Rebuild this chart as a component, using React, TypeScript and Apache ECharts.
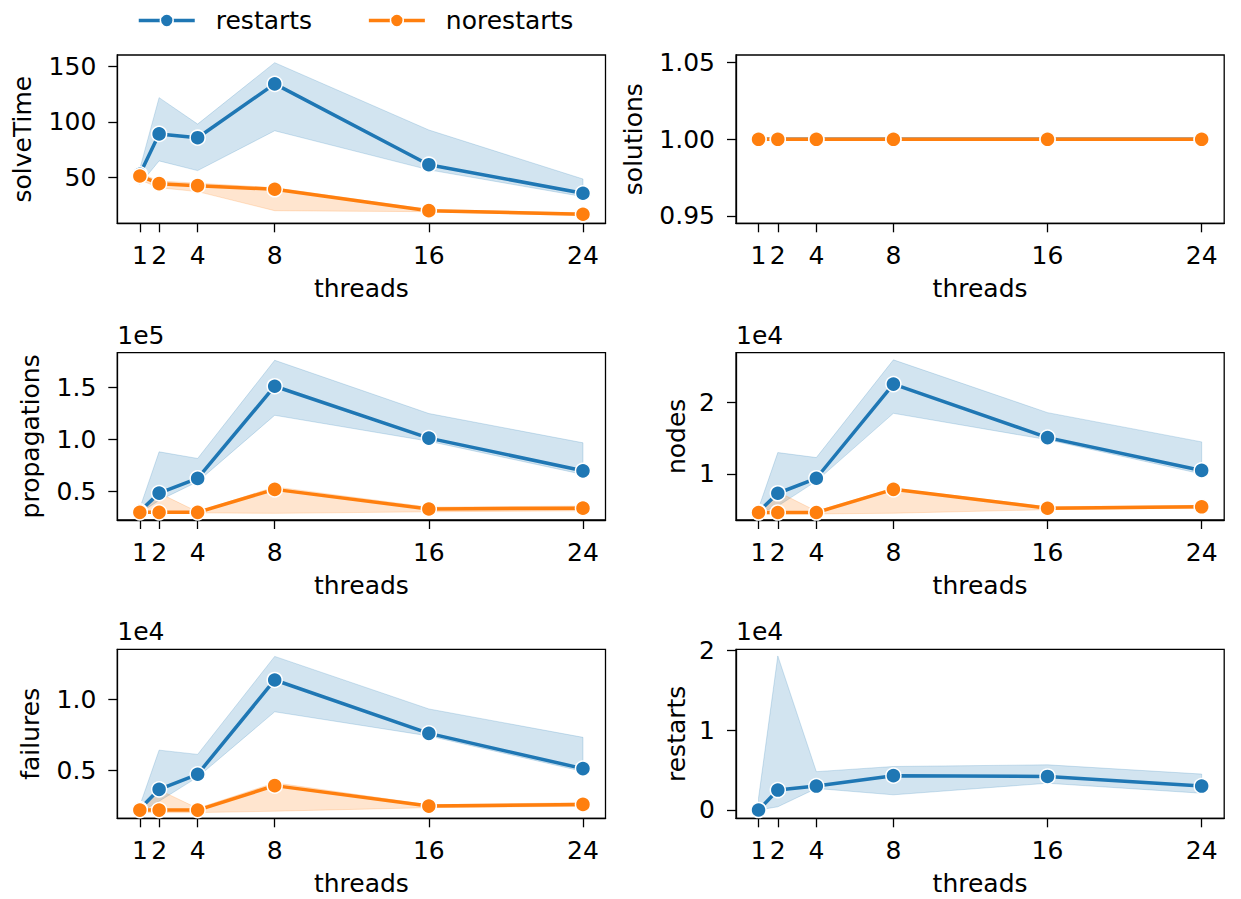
import React, { useEffect, useRef } from 'react';
import * as echarts from 'echarts';

// ---- data ----
const threads = [1, 2, 4, 8, 16, 24];

const solveTimeRestarts = [53, 89.2, 85.8, 134, 61.6, 36];
const solveTimeRestartsLo = [44, 65, 56.3, 92, 57, 33];
const solveTimeRestartsHi = [58, 121.7, 98, 153, 92.7, 48.8];
const solveTimeNo = [51.5, 44.6, 42.8, 39.6, 20.4, 17.2];
const solveTimeNoLo = [48, 41, 37.5, 20.4, 19.5, 16];
const solveTimeNoHi = [54, 47, 45, 41, 21.5, 18.5];

const solutionsRestarts = [1, 1, 1, 1, 1, 1];
const solutionsNo = [1, 1, 1, 1, 1, 1];

const propRestarts = [30500, 48000, 62200, 151000, 101000, 69500];
const propRestartsLo = [29000, 41000, 59000, 123000, 98000, 66000];
const propRestartsHi = [33500, 87800, 81400, 176000, 124700, 96500];
const propNo = [29500, 29500, 29500, 51600, 32700, 33500];
const propNoLo = [29000, 29000, 29000, 28500, 30000, 31000];
const propNoHi = [30000, 48000, 30000, 54000, 34500, 35500];

const nodesRestarts = [4700, 7300, 9400, 22600, 15100, 10500];
const nodesRestartsLo = [4500, 5500, 9000, 18500, 14800, 10000];
const nodesRestartsHi = [5200, 13000, 12300, 26000, 18600, 14500];
const nodesNo = [4600, 4600, 4600, 7850, 5200, 5400];
const nodesNoLo = [4400, 4400, 4400, 4500, 5000, 5200];
const nodesNoHi = [4800, 7500, 4800, 8000, 5400, 5600];

const failRestarts = [2250, 3640, 4700, 11340, 7580, 5100];
const failRestartsLo = [2000, 2800, 4500, 9100, 7400, 4900];
const failRestartsHi = [2500, 6400, 6100, 13000, 9300, 7300];
const failNo = [2180, 2180, 2180, 3900, 2460, 2580];
const failNoLo = [2000, 2000, 2000, 2100, 2350, 2450];
const failNoHi = [2300, 3600, 2300, 4100, 2550, 2700];

const restartsRestarts = [0, 2500, 3000, 4300, 4200, 3000];
const restartsRestartsLo = [0, 400, 2700, 1900, 3350, 2100];
const restartsRestartsHi = [1500, 19300, 4800, 5450, 5660, 4500];

const ticksSolveTime = [50, 100, 150];
const ticksSolutions = [0.95, 1.0, 1.05];
const ticksProp = [50000, 100000, 150000];
const ticksNodes = [10000, 20000];
const ticksFail = [5000, 10000];
const ticksRestarts = [0, 10000, 20000];

const BLUE = '#1f77b4';
const ORANGE = '#ff7f0e';
const BLUE_FILL = 'rgba(31,119,180,0.2)';
const ORANGE_FILL = 'rgba(255,127,14,0.2)';
const FONT = 'DejaVu Sans';
const FS = 25;

type Band = { v: number[]; lo?: number[]; hi?: number[] };
type Panel = {
  name: string;
  left: number; top: number; width: number; height: number;
  yMin: number; yMax: number; ticks: number[];
  fmt: (v: number) => string;
  nameGap: number;
  restarts: Band | null;
  norestarts: Band | null;
  offset?: string;
};

const COL = [117.3, 736];
const ROW = [{ top: 55, h: 168.3 }, { top: 352.7, h: 167.3 }, { top: 649.3, h: 169 }];
const W = 488.2;

const panels: Panel[] = [
  { name: 'solveTime', left: COL[0], top: ROW[0].top, width: W, height: ROW[0].h, yMin: 9.1, yMax: 159.9,
    ticks: ticksSolveTime, fmt: (v) => String(Math.round(v)), nameGap: 82,
    restarts: { v: solveTimeRestarts, lo: solveTimeRestartsLo, hi: solveTimeRestartsHi },
    norestarts: { v: solveTimeNo, lo: solveTimeNoLo, hi: solveTimeNoHi } },
  { name: 'solutions', left: COL[1], top: ROW[0].top, width: W, height: ROW[0].h, yMin: 0.9452, yMax: 1.055,
    ticks: ticksSolutions, fmt: (v) => v.toFixed(2), nameGap: 90,
    restarts: { v: solutionsRestarts }, norestarts: { v: solutionsNo } },
  { name: 'propagations', left: COL[0], top: ROW[1].top, width: W, height: ROW[1].h, yMin: 22100, yMax: 183300,
    ticks: ticksProp, fmt: (v) => (v / 1e5).toFixed(1), nameGap: 74, offset: '1e5',
    restarts: { v: propRestarts, lo: propRestartsLo, hi: propRestartsHi },
    norestarts: { v: propNo, lo: propNoLo, hi: propNoHi } },
  { name: 'nodes', left: COL[1], top: ROW[1].top, width: W, height: ROW[1].h, yMin: 3550, yMax: 27000,
    ticks: ticksNodes, fmt: (v) => (v / 1e4).toFixed(0), nameGap: 47, offset: '1e4',
    restarts: { v: nodesRestarts, lo: nodesRestartsLo, hi: nodesRestartsHi },
    norestarts: { v: nodesNo, lo: nodesNoLo, hi: nodesNoHi } },
  { name: 'failures', left: COL[0], top: ROW[2].top, width: W, height: ROW[2].h, yMin: 1600, yMax: 13500,
    ticks: ticksFail, fmt: (v) => (v / 1e4).toFixed(1), nameGap: 74, offset: '1e4',
    restarts: { v: failRestarts, lo: failRestartsLo, hi: failRestartsHi },
    norestarts: { v: failNo, lo: failNoLo, hi: failNoHi } },
  { name: 'restarts', left: COL[1], top: ROW[2].top, width: W, height: ROW[2].h, yMin: -1040, yMax: 20130,
    ticks: ticksRestarts, fmt: (v) => (v / 1e4).toFixed(0), nameGap: 47, offset: '1e4',
    restarts: { v: restartsRestarts, lo: restartsRestartsLo, hi: restartsRestartsHi },
    norestarts: null },
];

const textBase = { fontFamily: FONT, fontSize: FS, color: '#000' };

function bandSeries(i: number, b: Band, fill: string) {
  const lo = b.lo as number[];
  const hi = b.hi as number[];
  return {
    type: 'custom',
    name: 'band',
    xAxisIndex: i,
    yAxisIndex: i,
    silent: true,
    z: 2,
    data: threads.map((x, k) => [x, lo[k], hi[k]]),
    encode: { x: 0, y: [1, 2] },
    renderItem: (params: any, api: any) => {
      if (params.dataIndex !== 0) return null;
      const up = threads.map((x, k) => api.coord([x, hi[k]]));
      const dn = threads.map((x, k) => api.coord([x, lo[k]])).reverse();
      return {
        type: 'polygon',
        shape: { points: up.concat(dn) },
        style: { fill, stroke: fill, lineWidth: 1 },
      };
    },
  };
}

function lineSeries(i: number, name: string, b: Band, color: string) {
  return {
    type: 'line',
    name,
    xAxisIndex: i,
    yAxisIndex: i,
    z: 3,
    data: threads.map((x, k) => [x, b.v[k]]),
    symbol: 'circle',
    symbolSize: 15,
    showSymbol: true,
    lineStyle: { color, width: 3.5 },
    itemStyle: { color, borderColor: '#fff', borderWidth: 1.5 },
  };
}

export default function App() {
  const ref = useRef<HTMLDivElement>(null);
  useEffect(() => {
    if (!ref.current) return;
    const chart = echarts.init(ref.current, undefined, { renderer: 'svg' });
    const grid: any[] = [];
    const xAxis: any[] = [];
    const yAxis: any[] = [];
    const series: any[] = [];
    const graphic: any[] = [];
    panels.forEach((p, i) => {
      grid.push({ left: p.left, top: p.top, width: p.width, height: p.height, show: true,
        borderColor: '#000', borderWidth: 1.3, backgroundColor: 'transparent' });
      xAxis.push({
        gridIndex: i, type: 'value', min: -0.17, max: 25.17,
        name: 'threads', nameLocation: 'middle', nameGap: 53, nameTextStyle: textBase,
        axisLine: { show: true, onZero: false, lineStyle: { color: '#000', width: 1.3 } },
        splitLine: { show: false },
        axisTick: { show: true, customValues: threads, length: 9, lineStyle: { color: '#000', width: 1.3 } },
        axisLabel: { ...textBase, customValues: threads, margin: 20 },
      });
      yAxis.push({
        gridIndex: i, type: 'value', min: p.yMin, max: p.yMax,
        name: p.name, nameLocation: 'middle', nameGap: p.nameGap, nameTextStyle: textBase,
        axisLine: { show: true, onZero: false, lineStyle: { color: '#000', width: 1.3 } },
        splitLine: { show: false },
        axisTick: { show: true, customValues: p.ticks, length: 9, lineStyle: { color: '#000', width: 1.3 } },
        axisLabel: { ...textBase, customValues: p.ticks, margin: 21, formatter: (v: number) => p.fmt(v) },
      });
      if (p.restarts) {
        if (p.restarts.lo) series.push(bandSeries(i, p.restarts, BLUE_FILL));
        series.push(lineSeries(i, 'restarts', p.restarts, BLUE));
      }
      if (p.norestarts) {
        if (p.norestarts.lo) series.push(bandSeries(i, p.norestarts, ORANGE_FILL));
        series.push(lineSeries(i, 'norestarts', p.norestarts, ORANGE));
      }
      if (p.offset) {
        graphic.push({
          type: 'text', left: p.left, top: p.top - 30,
          style: { text: p.offset, font: `${FS}px "${FONT}"`, fill: '#000' },
        });
      }
    });
    chart.setOption({
      animation: false,
      backgroundColor: '#fff',
      legend: {
        data: ['restarts', 'norestarts'],
        left: 137, top: 8, padding: 0,
        itemWidth: 56, itemHeight: 16, itemGap: 55,
        lineStyle: { width: 3.5 },
        itemStyle: { borderColor: '#fff', borderWidth: 1.5 },
        textStyle: { ...textBase, padding: [0, 0, 0, 16] },
      },
      grid, xAxis, yAxis, series, graphic,
    });
    return () => chart.dispose();
  }, []);
  return <div ref={ref} style={{ position: 'fixed', left: 0, top: 0, width: 1241, height: 899 }} />;
}
